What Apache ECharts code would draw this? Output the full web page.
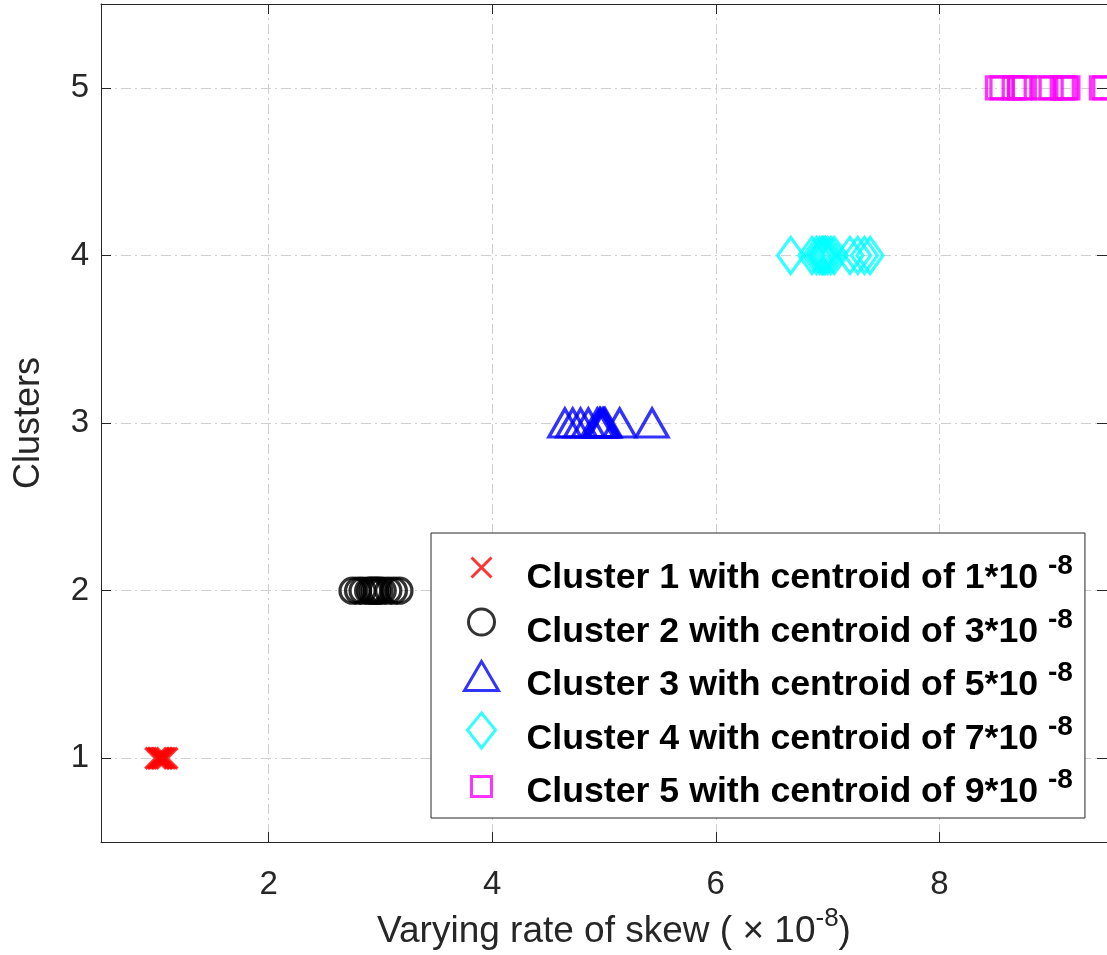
<!DOCTYPE html>
<html>
<head>
<meta charset="utf-8">
<script src="https://cdn.jsdelivr.net/npm/echarts@6/dist/echarts.min.js"></script>
<style>
  html, body { margin: 0; padding: 0; background: #ffffff; }
  #chart { width: 1107px; height: 955px; }
</style>
</head>
<body>
<div id="chart"></div>
<script>
// Cluster memberships: x = rate of skew (x 1e-8), y = cluster index
const clusterNames = [
  'Cluster 1 with centroid of 1*10',
  'Cluster 2 with centroid of 3*10',
  'Cluster 3 with centroid of 5*10',
  'Cluster 4 with centroid of 7*10',
  'Cluster 5 with centroid of 9*10'
];
const clusterLevels = [1, 2, 3, 4, 5];
const cluster1 = [0.99, 1.01, 1.02, 1.04, 1.05, 1.07, 1.09];
const cluster2 = [2.75, 2.80, 2.84, 2.89, 2.91, 2.93, 2.95, 2.97, 2.99, 3.02, 3.07, 3.12, 3.17];
const cluster3 = [4.65, 4.72, 4.79, 4.86, 4.94, 4.96, 4.97, 4.99, 5.00, 5.01, 5.14, 5.43];
const cluster4 = [6.67, 6.86, 6.90, 6.93, 6.95, 6.96, 6.98, 7.00, 7.03, 7.06, 7.20, 7.27, 7.33, 7.38];
const cluster5 = [8.52, 8.56, 8.67, 8.72, 8.76, 8.93, 9.00, 9.10, 9.13, 9.15, 9.45, 9.48];
const clusterValues = [cluster1, cluster2, cluster3, cluster4, cluster5];
const exponentLabel = '-8';

const colors = ['#ff0000', '#000000', '#0000ff', '#00ffff', '#ff00ff'];
const markerShapes = [
  'path://M0,0L20,20M20,0L0,20',
  'circle',
  'triangle',
  'diamond',
  'rect'
];
const markerSizes = [21, 25, [32, 28], [26, 36], 22];
// legend icons drawn inside a fixed 36x48 frame, marker sitting a little above centre
const legendIcons = [
  'path://M0,0M36,48M8,5L28,25M28,5L8,25',
  'path://M0,0M36,48M5,16A13,13,0,1,1,31,16A13,13,0,1,1,5,16Z',
  'path://M0,0M36,48M1,31L18,2L35,31Z',
  'path://M0,0M36,48M18,0L32,17L18,35L4,17Z',
  'path://M0,0M36,48M8,10H28V30H8Z'
];

const axisColor = '#262626';
const gridColor = '#cfcfcf';
const fontFamily = '"Liberation Sans", Arial, Helvetica, sans-serif';

const series = clusterNames.map((name, i) => ({
  name: name,
  type: 'scatter',
  xAxisIndex: 0,
  yAxisIndex: 0,
  symbol: markerShapes[i],
  symbolSize: markerSizes[i],
  itemStyle: {
    color: 'rgba(0,0,0,0)',
    borderColor: colors[i],
    borderWidth: 3.3
  },
  emphasis: { disabled: true },
  data: clusterValues[i].map(x => [x, clusterLevels[i]])
}));

const option = {
  animation: false,
  backgroundColor: '#ffffff',
  textStyle: { fontFamily: fontFamily },
  grid: { left: 101, right: 0, top: 4, bottom: 110, containLabel: false },
  xAxis: [
    {
      type: 'value', min: 0.5, max: 9.5, position: 'bottom',
      name: '{a|Varying rate of skew ( \u00d7 10}{s|' + exponentLabel + '}{m|)}',
      nameLocation: 'middle', nameGap: 60,
      nameTextStyle: {
        color: axisColor, fontFamily: fontFamily,
        rich: {
          a: { fontSize: 37, lineHeight: 40, verticalAlign: 'bottom', padding: [0, 0, 0, 20], color: axisColor, fontFamily: fontFamily },
          m: { fontSize: 37, lineHeight: 40, verticalAlign: 'bottom', color: axisColor, fontFamily: fontFamily },
          s: { fontSize: 26, lineHeight: 28, verticalAlign: 'bottom', padding: [0, 0, 18, 0], color: axisColor, fontFamily: fontFamily }
        }
      },
      axisLine: { show: true, onZero: false, lineStyle: { color: axisColor, width: 1 } },
      axisTick: { show: true, inside: true, length: 10, lineStyle: { color: axisColor } },
      axisLabel: { color: axisColor, fontSize: 33, margin: 26, showMinLabel: false, showMaxLabel: false, fontFamily: fontFamily },
      splitLine: { show: true, lineStyle: { color: gridColor, width: 1, type: [10, 4, 2, 4] } }
    },
    {
      type: 'value', min: 0.5, max: 9.5, position: 'top',
      axisLine: { show: true, onZero: false, lineStyle: { color: axisColor, width: 1 } },
      axisTick: { show: true, inside: true, length: 10, lineStyle: { color: axisColor } },
      axisLabel: { show: false },
      splitLine: { show: false }
    }
  ],
  yAxis: [
    {
      type: 'value', min: 0.5, max: 5.5, position: 'left',
      name: 'Clusters', nameLocation: 'middle', nameGap: 54,
      nameTextStyle: { color: axisColor, fontSize: 36, fontFamily: fontFamily },
      axisLine: { show: true, onZero: false, lineStyle: { color: axisColor, width: 1 } },
      axisTick: { show: true, inside: true, length: 10, lineStyle: { color: axisColor } },
      axisLabel: { color: axisColor, fontSize: 33, margin: 12, showMinLabel: false, showMaxLabel: false, fontFamily: fontFamily },
      splitLine: { show: true, lineStyle: { color: gridColor, width: 1, type: [10, 4, 2, 4] } }
    },
    {
      type: 'value', min: 0.5, max: 5.5, position: 'right',
      axisLine: { show: true, onZero: false, lineStyle: { color: axisColor, width: 1 } },
      axisTick: { show: true, inside: true, length: 10, lineStyle: { color: axisColor } },
      axisLabel: { show: false },
      splitLine: { show: false }
    }
  ],
  legend: {
    orient: 'vertical',
    left: 431,
    top: 533,
    padding: [18, 12, 2, 31],
    itemGap: 2.5,
    itemWidth: 36,
    itemHeight: 48,
    backgroundColor: '#ffffff',
    borderColor: axisColor,
    borderWidth: 1,
    selectedMode: false,
    itemStyle: { borderWidth: 3 },
    data: clusterNames.map((name, i) => ({ name: name, icon: legendIcons[i] })),
    formatter: name => '{t|' + name + ' }{s|' + exponentLabel + '}',
    textStyle: {
      color: '#000000',
      fontFamily: fontFamily,
      rich: {
        t: { fontSize: 35.7, fontWeight: 'bold', lineHeight: 40, verticalAlign: 'bottom', padding: [0, 0, 0, 22], color: '#000000', fontFamily: fontFamily },
        s: { fontSize: 28, fontWeight: 'bold', lineHeight: 30, verticalAlign: 'bottom', padding: [0, 0, 16, 0], color: '#000000', fontFamily: fontFamily }
      }
    }
  },
  series: series
};

const chart = echarts.init(document.getElementById('chart'), null, { renderer: 'canvas' });
chart.setOption(option);
</script>
</body>
</html>
